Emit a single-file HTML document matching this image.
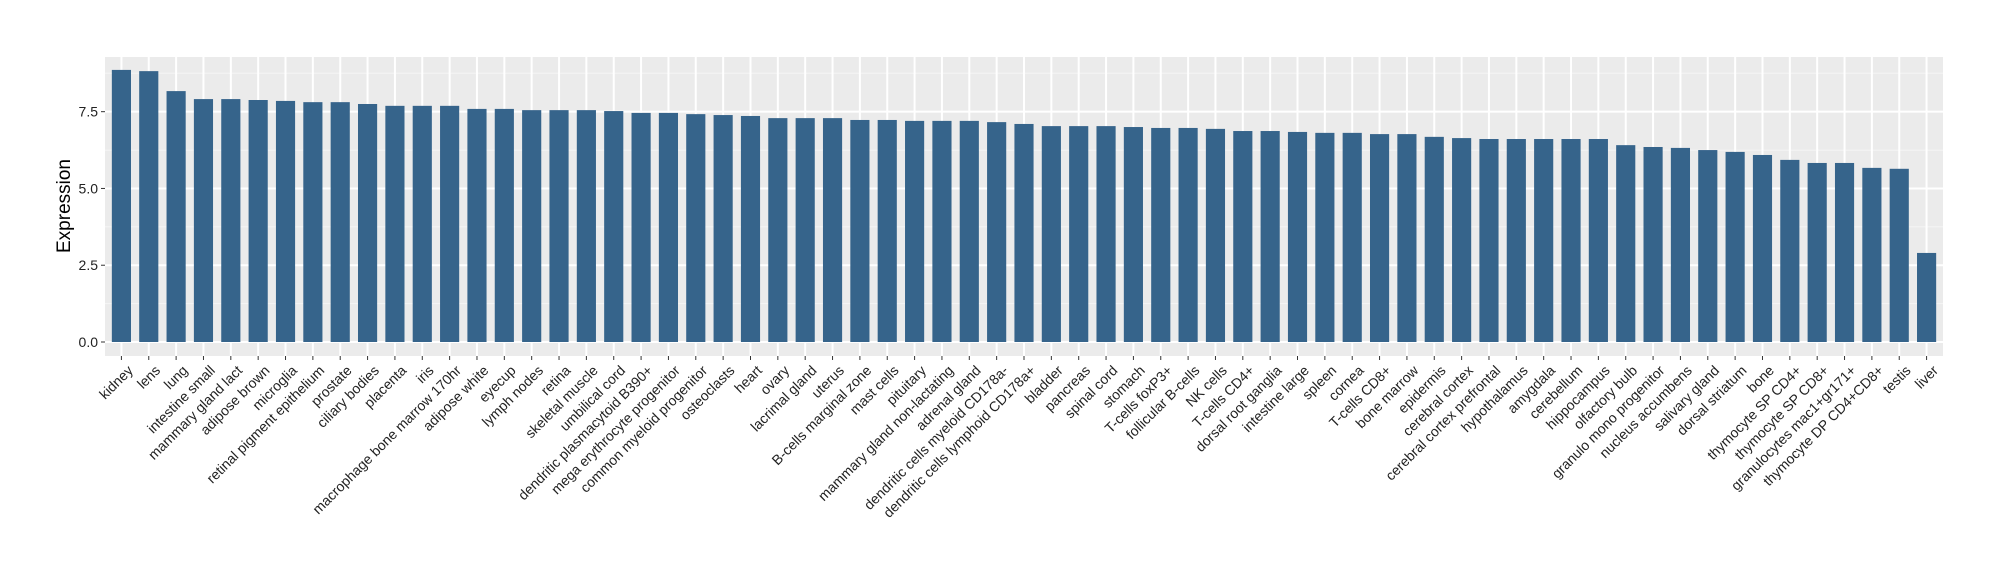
<!DOCTYPE html>
<html><head><meta charset="utf-8"><style>
body{margin:0;background:#fff;}
svg{display:block;font-family:"Liberation Sans",sans-serif;}
</style></head><body>
<svg id="chart" width="2000" height="580"></svg>
<script>
const categories=["kidney","lens","lung","intestine small","mammary gland  lact","adipose brown","microglia","retinal pigment epithelium","prostate","ciliary bodies","placenta","iris","macrophage bone marrow 170hr","adipose white","eyecup","lymph nodes","retina","skeletal muscle","umbilical cord","dendritic plasmacytoid B390+","mega erythrocyte progenitor","common myeloid progenitor","osteoclasts","heart","ovary","lacrimal gland","uterus","B-cells marginal zone","mast cells","pituitary","mammary gland non-lactating","adrenal gland","dendritic cells myeloid CD178a-","dendritic cells lymphoid CD178a+","bladder","pancreas","spinal cord","stomach","T-cells foxP3+","follicular B-cells","NK cells","T-cells CD4+","dorsal root ganglia","intestine large","spleen","cornea","T-cells CD8+","bone marrow","epidermis","cerebral cortex","cerebral cortex prefrontal","hypothalamus","amygdala","cerebellum","hippocampus","olfactory bulb","granulo mono progenitor","nucleus accumbens","salivary gland","dorsal striatum","bone","thymocyte SP CD4+","thymocyte SP CD8+","granulocytes mac1+gr171+","thymocyte DP CD4+CD8+","testis","liver"];
const values=[8.86,8.82,8.17,7.91,7.91,7.88,7.85,7.81,7.81,7.75,7.69,7.69,7.69,7.59,7.59,7.55,7.55,7.55,7.52,7.46,7.46,7.42,7.39,7.36,7.29,7.29,7.29,7.23,7.23,7.20,7.20,7.20,7.16,7.10,7.03,7.03,7.03,7.00,6.97,6.97,6.94,6.87,6.87,6.84,6.81,6.81,6.77,6.77,6.68,6.64,6.61,6.61,6.61,6.61,6.61,6.41,6.35,6.32,6.25,6.19,6.09,5.93,5.83,5.83,5.67,5.64,2.90];
const yTicks=[0,2.5,5,7.5];
const yTickLabels=["0.0","2.5","5.0","7.5"];

const NS="http://www.w3.org/2000/svg";
const svg=document.getElementById('chart');
const P={l:105,r:1943,t:57,b:356};
const yMin=-0.45,yMax=9.28;
const y=v=>342-(v)*30.71;
const step=(P.r-P.l)/(categories.length-1+1.2);
const x=i=>P.l+step*(0.6+i);
function mk(tag,attrs){const e=document.createElementNS(NS,tag);for(const k in attrs)e.setAttribute(k,attrs[k]);svg.appendChild(e);return e;}

const bg=mk('rect',{x:P.l,y:P.t,width:P.r-P.l,height:P.b-P.t,fill:'#ebebeb'});


// minor grid
for(let i=0;i<yTicks.length;i++){
  const m=yTicks[i]+1.25;
  if(y(m)>P.t){const g=mk('line',{x1:P.l,x2:P.r,y1:y(m),y2:y(m),stroke:'#f5f5f5','stroke-width':1});
  
  }
}
yTicks.forEach((t,i)=>{
  const g=mk('line',{x1:P.l,x2:P.r,y1:y(t),y2:y(t),stroke:'#fff','stroke-width':2});
  
  
  const tk=mk('line',{x1:P.l-4,x2:P.l,y1:y(t),y2:y(t),stroke:'#333','stroke-width':1});
  
  
  const lb=mk('text',{x:P.l-7,y:y(t)+5,'text-anchor':'end','font-size':14,fill:'#222'});
  lb.textContent=yTickLabels[i];
  
  
});
categories.forEach((c,i)=>{
  const g=mk('line',{x1:x(i),x2:x(i),y1:P.t,y2:P.b,stroke:'#fff','stroke-width':2});
  
  
});
const bw=step*0.7;
categories.forEach((c,i)=>{
  const b=mk('rect',{x:x(i)-bw/2,y:y(values[i]),width:bw,height:y(0)-y(values[i]),fill:'#36648b'});
  
  
  const tk=mk('line',{x1:x(i),x2:x(i),y1:P.b,y2:P.b+4,stroke:'#333','stroke-width':1});
  
  
  const lb=mk('text',{transform:`translate(${x(i)+5},${P.b+8}) rotate(-45)`,'text-anchor':'end','dominant-baseline':'hanging','font-size':14,fill:'#222'});
  lb.textContent=c;
  
  
});
const yt=mk('text',{transform:'translate(70,206) rotate(-90)','text-anchor':'middle','font-size':19,fill:'#000'});
yt.textContent='Expression';


</script>
</body></html>
